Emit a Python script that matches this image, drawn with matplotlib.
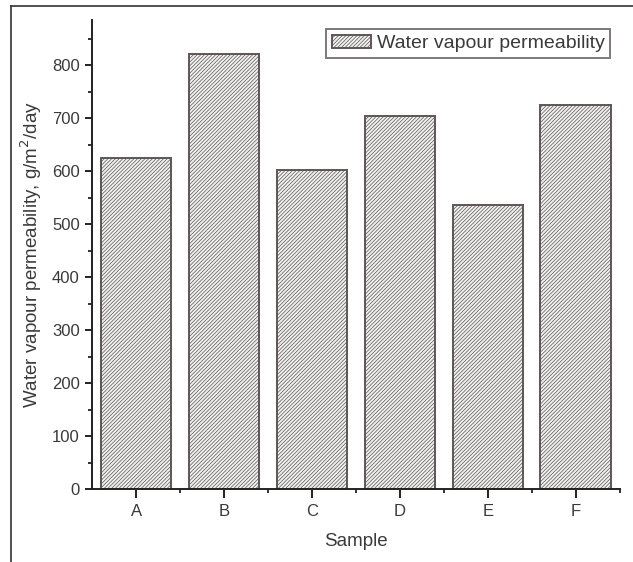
import numpy as np
import matplotlib
matplotlib.use('Agg')
import matplotlib.pyplot as plt
from matplotlib.ticker import MultipleLocator, FixedLocator
from matplotlib.lines import Line2D

samples = ['A', 'B', 'C', 'D', 'E', 'F']
wvp = [624, 820, 603, 704, 537, 725]

plt.rcParams['font.family'] = ['Liberation Sans', 'DejaVu Sans']
plt.rcParams['hatch.color'] = '#b4b4b4'
plt.rcParams['hatch.linewidth'] = 0.5
txt = '#3a3a3a'
edge = '#5e5656'

fig = plt.figure(figsize=(6.33, 5.62), dpi=100)
ax = fig.add_axes([92.3 / 633, 1 - 489.3 / 562, (619.5 - 92.3) / 633, (489.3 - 20) / 562])

x = np.arange(1, len(samples) + 1)
ax.bar(x, wvp, width=0.8, color='#f0f0f0', edgecolor=edge, linewidth=1.4,
       hatch='/////////', label='Water vapour permeability')

ax.set_xlim(0.5, 6.5)
ax.set_ylim(0, 885)
ax.set_xticks(x)
ax.set_xticklabels(samples)
ax.xaxis.set_minor_locator(FixedLocator(np.arange(1.5, 6.6, 1)))
ax.yaxis.set_major_locator(MultipleLocator(100))
ax.yaxis.set_minor_locator(MultipleLocator(50))

for s in ['top', 'right']:
    ax.spines[s].set_visible(False)
for s in ['left', 'bottom']:
    ax.spines[s].set_linewidth(1.4)
    ax.spines[s].set_color('#222222')

ax.tick_params(which='major', direction='out', width=1.4, color='#222222',
               labelsize=12, labelcolor=txt)
ax.tick_params(axis='x', which='major', length=6.5, pad=4)
ax.tick_params(axis='y', which='major', length=5, pad=4)
ax.tick_params(which='minor', direction='out', length=3, width=1.3, color='#222222')

ax.set_xlabel('Sample', fontsize=13.5, color=txt, labelpad=10)
ax.set_ylabel('Water vapour permeability, g/m$^2$/day', fontsize=13.5, color=txt, labelpad=6)

leg = ax.legend(loc='upper right', bbox_to_anchor=(1.0 - 9 / 527, 1.0 - 9 / 469),
                fontsize=14, frameon=True, fancybox=False, borderpad=0.3,
                handlelength=2.0, handleheight=0.7, handletextpad=0.3, borderaxespad=0)
leg.get_frame().set_edgecolor(edge)
leg.get_frame().set_linewidth(1.4)
for t in leg.get_texts():
    t.set_color(txt)

# outer frame (top and left edges visible in the reference crop)
fig.add_artist(Line2D([11 / 633, 1.0], [1 - 6 / 562, 1 - 6 / 562], color='#333333', lw=1.2))
fig.add_artist(Line2D([11 / 633, 11 / 633], [0, 1 - 6 / 562], color='#333333', lw=1.2))

fig.savefig('out.png', dpi=100)
